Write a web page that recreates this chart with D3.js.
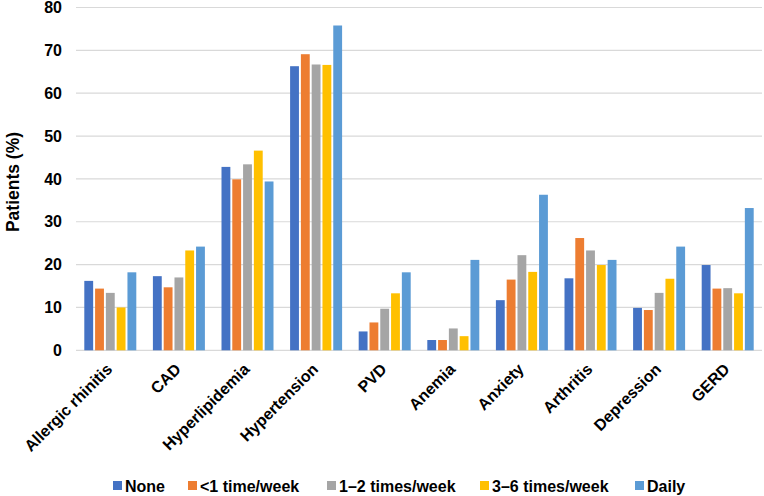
<!DOCTYPE html>
<html>
<head>
<meta charset="utf-8">
<script src="https://cdn.jsdelivr.net/npm/d3@7"></script>
<style>
  html, body { margin: 0; padding: 0; background: #fff; }
  text { font-family: Arial, "Liberation Sans", sans-serif; font-weight: bold; fill: #000; }
</style>
</head>
<body>
<svg id="chart" width="764" height="496"></svg>
<script>
const categories = ["Allergic rhinitis", "CAD", "Hyperlipidemia", "Hypertension", "PVD", "Anemia", "Anxiety", "Arthritis", "Depression", "GERD"];
const seriesNames = ["None", "<1 time/week", "1\u20132 times/week", "3\u20136 times/week", "Daily"];
const seriesColors = ["#4472C4", "#ED7D31", "#A5A5A5", "#FFC000", "#5B9BD5"];
const none      = [16.2, 17.3, 42.8, 66.3, 4.4, 2.4, 11.7, 16.8, 9.9, 19.9];
const lessOnce  = [14.4, 14.7, 39.9, 69.1, 6.5, 2.4, 16.5, 26.2, 9.4, 14.4];
const oneTwo    = [13.4, 17.0, 43.4, 66.7, 9.7, 5.1, 22.2, 23.3, 13.4, 14.5];
const threeSix  = [10.0, 23.3, 46.6, 66.6, 13.3, 3.3, 18.3, 19.9, 16.7, 13.3];
const daily     = [18.2, 24.2, 39.4, 75.8, 18.2, 21.1, 36.3, 21.1, 24.2, 33.2];
const yTicks = [0, 10, 20, 30, 40, 50, 60, 70, 80];
const yTitle = "Patients (%)";

const seriesValues = [none, lessOnce, oneTwo, threeSix, daily];

const svg = d3.select("#chart");
const plotL = 76, plotR = 762, plotT = 7.5, plotB = 350.3;

const x = d3.scaleBand().domain(categories).range([plotL, plotR]).paddingInner(0).paddingOuter(0);
const y = d3.scaleLinear().domain([0, 80]).range([plotB, plotT]);
const groupW = x.bandwidth() * 0.758;
const xs = d3.scaleBand().domain(d3.range(seriesNames.length)).range([0, groupW]).paddingInner(0.18).paddingOuter(0);

// gridlines
svg.append("g").selectAll("line").data(yTicks).join("line")
  .attr("x1", plotL).attr("x2", plotR)
  .attr("y1", d => y(d)).attr("y2", d => y(d))
  .attr("stroke", "#d9d9d9").attr("stroke-width", 1.2);

// y axis labels
const yAxis = svg.append("g").attr("transform", `translate(${plotL},0)`)
  .call(d3.axisLeft(y).tickValues(yTicks).tickSize(0).tickPadding(14));
yAxis.select(".domain").remove();
yAxis.selectAll("text").style("font-size", "16px").style("font-weight", "bold")
  .style("font-family", "Arial, 'Liberation Sans', sans-serif").attr("fill", "#000");

// bars
const groups = svg.append("g").selectAll("g").data(categories).join("g")
  .attr("transform", c => `translate(${x(c) + (x.bandwidth() - groupW) / 2},0)`);
groups.selectAll("rect")
  .data((c, i) => seriesValues.map((vals, s) => ({ s, v: vals[i] })))
  .join("rect")
  .attr("x", d => xs(d.s))
  .attr("width", xs.bandwidth())
  .attr("y", d => y(d.v))
  .attr("height", d => y(0) - y(d.v))
  .attr("fill", d => seriesColors[d.s]);

// x labels rotated
svg.append("g").selectAll("text").data(categories).join("text")
  .attr("transform", c => `translate(${x(c) + x.bandwidth() / 2 - 1},${plotB + 16}) rotate(-45)`)
  .attr("text-anchor", "end")
  .attr("dy", "0.35em")
  .style("font-size", "16px")
  .text(c => c);

// y title
svg.append("text")
  .attr("transform", `translate(19,182) rotate(-90)`)
  .attr("text-anchor", "middle")
  .style("font-size", "17.5px")
  .text(yTitle);

// legend
const legendX = [113, 188, 327, 480, 635];
const legend = svg.append("g").selectAll("g").data(seriesNames).join("g")
  .attr("transform", (d, i) => `translate(${legendX[i]},486)`);
legend.append("rect").attr("x", 0).attr("y", -5).attr("width", 9).attr("height", 9)
  .attr("fill", (d, i) => seriesColors[i]);
legend.append("text").attr("x", 12).attr("dy", "0.36em")
  .style("font-size", "16px").text(d => d);
</script>
</body>
</html>
